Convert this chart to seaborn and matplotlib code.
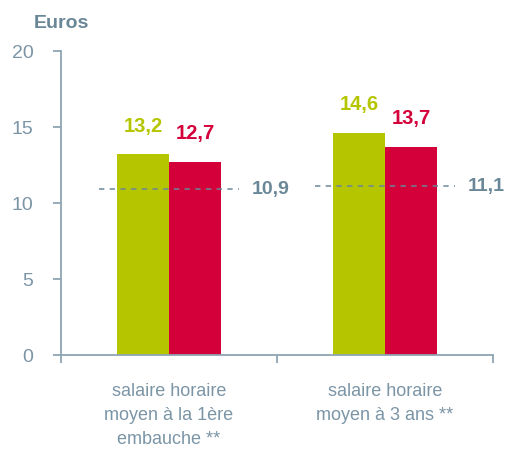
import matplotlib.pyplot as plt
import pandas as pd
import seaborn as sns

categories = ["salaire horaire\nmoyen à la 1ère\nembauche **", "salaire horaire\nmoyen à 3 ans **"]
series = ["A", "B"]
values_a = [13.2, 14.6]
values_b = [12.7, 13.7]
reference = [10.9, 11.1]

green = "#b5c500"
red = "#d4003a"
axis_col = "#8ea4b2"
text_col = "#7b95a6"
dark_col = "#6a8798"

sns.set_style("white")
plt.rcParams["font.family"] = ["Liberation Sans", "DejaVu Sans"]

df = pd.DataFrame({
    "cat": categories * 2,
    "serie": [series[0]] * 2 + [series[1]] * 2,
    "val": values_a + values_b,
})

fig = plt.figure(figsize=(5.08, 4.49), dpi=100)
ax = fig.add_axes([61 / 508, 94 / 449, 432 / 508, 304 / 449])

sns.barplot(data=df, x="cat", y="val", hue="serie", palette=[green, red],
            width=0.48, dodge=True, legend=False, saturation=1, ax=ax,
            linewidth=0, edgecolor="none")

ax.set_xlim(-0.5, 1.5)
ax.set_ylim(0, 20)
ax.set_xlabel("")
ax.set_ylabel("")

for side in ["top", "right"]:
    ax.spines[side].set_visible(False)
for side in ["left", "bottom"]:
    ax.spines[side].set_color(axis_col)
    ax.spines[side].set_linewidth(1.3)

ax.set_yticks([0, 5, 10, 15, 20])
ax.tick_params(axis="y", length=5.8, width=1.3, color=axis_col, labelcolor=text_col,
               labelsize=14, pad=14, direction="out", left=True)
ax.set_xticks([-0.5, 0.5, 1.5], ["", "", ""])
ax.set_xticks([0, 1], categories, minor=True)
ax.tick_params(axis="x", which="major", length=5.8, width=1.3, color=axis_col,
               direction="out", bottom=True)
ax.tick_params(axis="x", which="minor", length=0, pad=20, labelsize=13,
               labelcolor=text_col)
for lbl in ax.get_xticklabels(minor=True):
    lbl.set_linespacing(1.55)

# value labels over bars
for i in range(len(categories)):
    ax.annotate(f"{values_a[i]:.1f}".replace(".", ","), (i - 0.12, values_a[i]),
                xytext=(0, 13.5), textcoords="offset points", ha="center", va="bottom",
                fontsize=14.5, fontweight="bold", color=green)
    ax.annotate(f"{values_b[i]:.1f}".replace(".", ","), (i + 0.12, values_b[i]),
                xytext=(0, 13.5), textcoords="offset points", ha="center", va="bottom",
                fontsize=14.5, fontweight="bold", color=red)
    ax.hlines(reference[i], i - 0.325, i + 0.325, colors=dark_col, linewidth=1.1,
              linestyles=(0, (3.5, 3.5)), zorder=5)
    ax.text(i + 0.47, reference[i], f"{reference[i]:.1f}".replace(".", ","),
            ha="center", va="center", fontsize=14, fontweight="bold", color=dark_col)

fig.text(61 / 508, 1 - 24 / 449, "Euros", ha="center", va="center",
         fontsize=14, fontweight="bold", color=dark_col)

fig.savefig("out.png", dpi=100)
